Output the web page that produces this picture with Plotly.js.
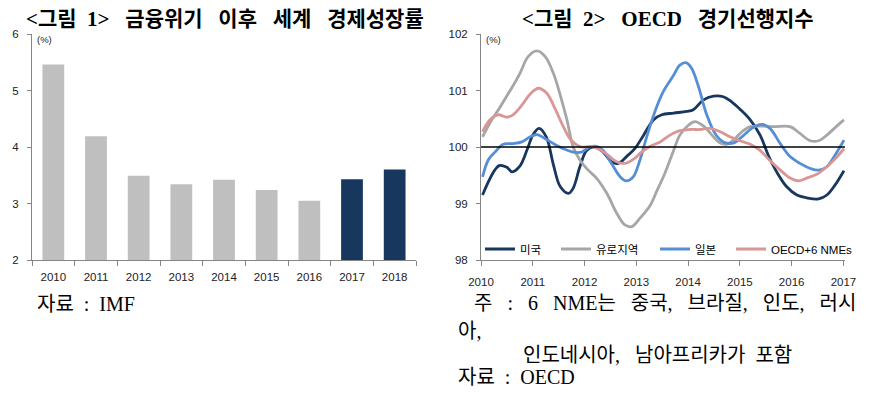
<!DOCTYPE html>
<html>
<head>
<meta charset="utf-8">
<script src="https://cdn.plot.ly/plotly-3.0.1.min.js"></script>
<style>
html,body{margin:0;padding:0;background:#fff;}
#chart{width:873px;height:395px;}
</style>
</head>
<body>
<div id="chart"></div>
<script>
// ---- Chart 1: world growth (IMF) ----
const growthYears = ['2010','2011','2012','2013','2014','2015','2016','2017','2018'];
const growthValues = [5.46, 4.19, 3.49, 3.34, 3.42, 3.24, 3.05, 3.43, 3.60];
const forecastYears = ['2017','2018'];

// ---- Chart 2: OECD composite leading indicators ----
const usX = [2010.03, 2010.35, 2010.50, 2010.60, 2010.75, 2010.89, 2011.00, 2011.12, 2011.26, 2011.40, 2011.53, 2011.69, 2011.78, 2011.91, 2012.04, 2012.20, 2012.36, 2012.52, 2012.65, 2012.81, 2012.97, 2013.14, 2013.33, 2013.49, 2013.72, 2013.97, 2014.10, 2014.29, 2014.49, 2014.68, 2014.84, 2015.00, 2015.20, 2015.39, 2015.55, 2015.71, 2015.90, 2016.10, 2016.29, 2016.52, 2016.68, 2016.84, 2017.01];
const usY = [99.15, 99.67, 99.64, 99.56, 99.66, 99.95, 100.21, 100.33, 100.18, 99.68, 99.30, 99.18, 99.27, 99.65, 99.94, 100.00, 99.91, 99.74, 99.71, 99.83, 99.97, 100.21, 100.48, 100.57, 100.60, 100.63, 100.66, 100.83, 100.90, 100.89, 100.80, 100.67, 100.48, 100.21, 99.85, 99.56, 99.30, 99.15, 99.10, 99.08, 99.15, 99.33, 99.58];

const euroX = [2010.03, 2010.17, 2010.37, 2010.59, 2010.75, 2010.91, 2011.08, 2011.24, 2011.40, 2011.53, 2011.66, 2011.78, 2011.91, 2012.07, 2012.23, 2012.43, 2012.62, 2012.78, 2012.91, 2013.07, 2013.27, 2013.39, 2013.55, 2013.72, 2013.84, 2014.01, 2014.13, 2014.30, 2014.46, 2014.62, 2014.75, 2014.87, 2015.04, 2015.20, 2015.39, 2015.65, 2015.97, 2016.16, 2016.36, 2016.52, 2016.68, 2016.87, 2017.01];
const euroY = [100.18, 100.42, 100.71, 101.04, 101.30, 101.60, 101.70, 101.60, 101.30, 100.92, 100.48, 100.00, 99.77, 99.59, 99.45, 99.18, 98.83, 98.62, 98.59, 98.74, 98.97, 99.21, 99.53, 99.94, 100.21, 100.39, 100.45, 100.37, 100.21, 100.07, 100.05, 100.12, 100.27, 100.36, 100.37, 100.36, 100.36, 100.24, 100.11, 100.11, 100.21, 100.37, 100.48];

const japanX = [2010.03, 2010.14, 2010.27, 2010.43, 2010.62, 2010.79, 2010.95, 2011.08, 2011.20, 2011.40, 2011.59, 2011.78, 2011.94, 2012.10, 2012.23, 2012.36, 2012.52, 2012.69, 2012.81, 2012.94, 2013.07, 2013.20, 2013.36, 2013.52, 2013.72, 2013.84, 2013.97, 2014.07, 2014.20, 2014.36, 2014.52, 2014.68, 2014.87, 2015.04, 2015.23, 2015.42, 2015.58, 2015.78, 2015.97, 2016.16, 2016.36, 2016.52, 2016.68, 2016.84, 2017.01];
const japanY = [99.47, 99.77, 99.91, 100.05, 100.06, 100.09, 100.18, 100.22, 100.17, 100.06, 99.97, 99.91, 99.91, 100.00, 100.01, 99.94, 99.71, 99.47, 99.40, 99.47, 99.77, 100.18, 100.63, 100.98, 101.27, 101.45, 101.49, 101.39, 101.07, 100.57, 100.24, 100.09, 100.07, 100.18, 100.33, 100.40, 100.33, 100.06, 99.83, 99.71, 99.62, 99.59, 99.65, 99.86, 100.12];

const oecdX = [2010.03, 2010.17, 2010.33, 2010.50, 2010.62, 2010.79, 2010.95, 2011.11, 2011.27, 2011.43, 2011.59, 2011.75, 2011.94, 2012.10, 2012.27, 2012.46, 2012.62, 2012.78, 2012.94, 2013.10, 2013.26, 2013.46, 2013.65, 2013.84, 2014.04, 2014.23, 2014.42, 2014.62, 2014.81, 2015.00, 2015.20, 2015.39, 2015.58, 2015.78, 2015.97, 2016.13, 2016.29, 2016.49, 2016.68, 2016.84, 2017.01];
const oecdY = [100.27, 100.48, 100.57, 100.53, 100.57, 100.74, 100.94, 101.04, 100.95, 100.68, 100.36, 100.11, 100.00, 100.01, 99.97, 99.85, 99.74, 99.71, 99.78, 99.91, 100.01, 100.09, 100.21, 100.29, 100.31, 100.31, 100.33, 100.27, 100.18, 100.11, 100.05, 99.94, 99.76, 99.59, 99.45, 99.40, 99.45, 99.52, 99.65, 99.79, 99.97];

const seriesNames = ['미국', '유로지역', '일본', 'OECD+6 NMEs'];
const lineYearTicks = [2010, 2011, 2012, 2013, 2014, 2015, 2016, 2017];

const W = 873, H = 395;
const px = v => v / W;
const py = v => 1 - v / H;
const sp = n => '&nbsp;'.repeat(n);

const tickFont = {family: 'Liberation Sans, Arial, sans-serif', size: 11.5, color: '#222'};
const axisGray = '#868686';
const legendFont = {family: 'Liberation Sans, Noto Sans CJK KR, sans-serif', size: 11.5, color: '#000'};

const barColors = growthYears.map(y => forecastYears.includes(y) ? '#17375E' : '#BFBFBF');

const traces = [
  {type: 'bar', x: growthYears, y: growthValues, xaxis: 'x', yaxis: 'y',
   marker: {color: barColors, line: {width: 0}}, showlegend: false, hoverinfo: 'x+y'},
  {type: 'scatter', mode: 'lines', x: usX, y: usY, xaxis: 'x2', yaxis: 'y2', name: seriesNames[0],
   line: {color: '#17375E', width: 2.8, shape: 'spline', smoothing: 1}, legend: 'legend'},
  {type: 'scatter', mode: 'lines', x: euroX, y: euroY, xaxis: 'x2', yaxis: 'y2', name: seriesNames[1],
   line: {color: '#A6A6A6', width: 2.8, shape: 'spline', smoothing: 1}, legend: 'legend2'},
  {type: 'scatter', mode: 'lines', x: japanX, y: japanY, xaxis: 'x2', yaxis: 'y2', name: seriesNames[2],
   line: {color: '#558ED5', width: 2.8, shape: 'spline', smoothing: 1}, legend: 'legend3'},
  {type: 'scatter', mode: 'lines', x: oecdX, y: oecdY, xaxis: 'x2', yaxis: 'y2', name: seriesNames[3],
   line: {color: '#D99694', width: 2.8, shape: 'spline', smoothing: 1}, legend: 'legend4'}
];

const legendBase = {orientation: 'h', yanchor: 'middle', xanchor: 'left', y: py(249),
  bgcolor: 'rgba(0,0,0,0)', borderwidth: 0, font: legendFont};

const titleFont = {family: 'Liberation Serif, Noto Sans CJK KR, serif', size: 21, color: '#000', weight: 'bold'};
const noteFont = {family: 'Liberation Serif, Noto Sans CJK KR, serif', size: 20, color: '#000'};

function ann(text, x, y, font, xanchor) {
  return {text: text, x: px(x), y: py(y), xref: 'paper', yref: 'paper', xanchor: xanchor || 'left',
          yanchor: 'middle', showarrow: false, font: font};
}

const layout = {
  width: W, height: H,
  margin: {l: 0, r: 0, t: 0, b: 0},
  paper_bgcolor: '#fff', plot_bgcolor: '#fff',
  bargap: 0.49,
  xaxis: {domain: [px(32), px(416)], type: 'category', showline: true, linecolor: axisGray, linewidth: 1,
          ticks: 'outside', tickson: 'boundaries', ticklen: 5, tickcolor: axisGray, tickfont: tickFont,
          showgrid: false, zeroline: false, ticklabelstandoff: 6, fixedrange: true},
  yaxis: {domain: [py(260), py(34)], range: [2, 6], dtick: 1, showline: true, linecolor: axisGray, linewidth: 1,
          ticks: 'outside', ticklen: 4, tickcolor: axisGray, tickfont: tickFont, showgrid: false,
          zeroline: false, ticklabelstandoff: 6, fixedrange: true},
  xaxis2: {domain: [px(481), px(845)], range: [2010, 2017.03], tickvals: lineYearTicks,
           ticktext: lineYearTicks.map(String), showline: true, linecolor: axisGray, linewidth: 1,
           ticks: 'outside', ticklen: 5, tickcolor: axisGray, tickfont: tickFont, showgrid: false,
           zeroline: false, anchor: 'y2', ticklabelstandoff: 6, fixedrange: true},
  yaxis2: {domain: [py(260), py(34)], range: [98, 102], dtick: 1, showline: true, linecolor: axisGray, linewidth: 1,
           ticks: 'outside', ticklen: 4, tickcolor: axisGray, tickfont: tickFont, showgrid: false,
           zeroline: false, anchor: 'x2', ticklabelstandoff: 6, fixedrange: true},
  shapes: [
    {type: 'line', xref: 'x2 domain', x0: 0, x1: 1, yref: 'y2', y0: 100, y1: 100,
     line: {color: '#000', width: 1.6}}
  ],
  legend: Object.assign({}, legendBase, {x: px(480)}),
  legend2: Object.assign({}, legendBase, {x: px(556)}),
  legend3: Object.assign({}, legendBase, {x: px(655)}),
  legend4: Object.assign({}, legendBase, {x: px(731)}),
  annotations: [
    ann('&lt;그림' + sp(2) + '1&gt;' + sp(3) + '금융위기' + sp(3) + '이후' + sp(3) + '세계' + sp(3) + '경제성장률', 225, 19, titleFont, 'center'),
    ann('&lt;그림' + sp(2) + '2&gt;' + sp(3) + 'OECD' + sp(3) + '경기선행지수', 668, 19, titleFont, 'center'),
    ann('(%)', 35, 40, {family: 'Liberation Sans, Arial, sans-serif', size: 9.5, color: '#222'}),
    ann('(%)', 484, 40, {family: 'Liberation Sans, Arial, sans-serif', size: 9.5, color: '#222'}),
    ann('자료' + sp(2) + ':' + sp(2) + 'IMF', 35, 304, noteFont),
    ann('주' + sp(3) + ':' + sp(3) + '6' + sp(3) + 'NME는' + sp(3) + '중국,' + sp(3) + '브라질,' + sp(3) + '인도,' + sp(3) + '러시', 472, 303, noteFont),
    ann('아,', 456, 331, noteFont),
    ann('인도네시아,' + sp(3) + '남아프리카가' + sp(2) + '포함', 521, 355, noteFont),
    ann('자료' + sp(2) + ':' + sp(2) + 'OECD', 456, 377, noteFont)
  ]
};

Plotly.newPlot('chart', traces, layout, {staticPlot: true, displayModeBar: false});
</script>
</body>
</html>
